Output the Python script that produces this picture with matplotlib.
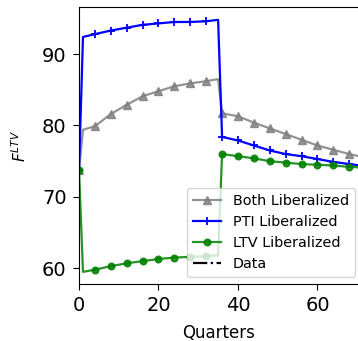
import numpy as np
import matplotlib
matplotlib.use("Agg")
import matplotlib.pyplot as plt

quarters = [0, 1, 4, 8, 12, 16, 20, 24, 28, 32, 35, 36, 40, 44, 48, 52, 56, 60, 64, 68, 72]

both_lib = [73.7, 79.4, 79.9, 81.6, 82.9, 84.1, 84.8, 85.5, 85.9, 86.2, 86.5,
            81.7, 81.3, 80.4, 79.6, 78.8, 78.0, 77.2, 76.6, 76.0, 75.5]
pti_lib = [73.7, 92.4, 92.8, 93.3, 93.7, 94.1, 94.3, 94.5, 94.5, 94.6, 94.8,
           78.4, 77.9, 77.2, 76.5, 76.0, 75.7, 75.3, 74.9, 74.6, 74.3]
ltv_lib = [73.8, 59.5, 59.8, 60.3, 60.7, 61.0, 61.3, 61.5, 61.6, 61.7, 61.8,
           76.0, 75.7, 75.4, 75.0, 74.8, 74.6, 74.5, 74.4, 74.2, 74.1]

# markers only every 4 quarters
mark_idx = [i for i, q in enumerate(quarters) if q % 4 == 0]

fig = plt.figure(figsize=(3.58, 3.41), dpi=100)
ax = fig.add_axes([0.2207, 0.1672, 0.7793, 0.8123])

ax.plot(quarters, both_lib, color="gray", marker="^", markevery=mark_idx,
        lw=1.6, ms=5.5, alpha=0.85, label="Both Liberalized")
ax.plot(quarters, pti_lib, color="blue", marker="+", markevery=mark_idx,
        lw=1.6, ms=5.5, mew=1.3, label="PTI Liberalized")
ax.plot(quarters, ltv_lib, color="green", marker="o", markevery=mark_idx,
        lw=1.6, ms=4.5, mew=1.3, alpha=0.85, label="LTV Liberalized")
ax.plot([], [], color="black", ls="-.", lw=1.6, label="Data")

ax.set_xlim(0, 70.2)
ax.set_ylim(57.8, 96.6)
ax.set_xticks([0, 20, 40, 60])
ax.set_yticks([60, 70, 80, 90])
ax.tick_params(labelsize=14, length=4.5, pad=4.5)
ax.spines["right"].set_visible(False)

ax.set_xlabel("Quarters", fontsize=12, labelpad=6)
ax.set_ylabel(r"$F^{LTV}$", fontsize=11, labelpad=9)

ax.legend(loc="lower right", fontsize=10.4, borderaxespad=0,
          bbox_to_anchor=(0.989, 0.025))

plt.savefig("out.png", dpi=100)
